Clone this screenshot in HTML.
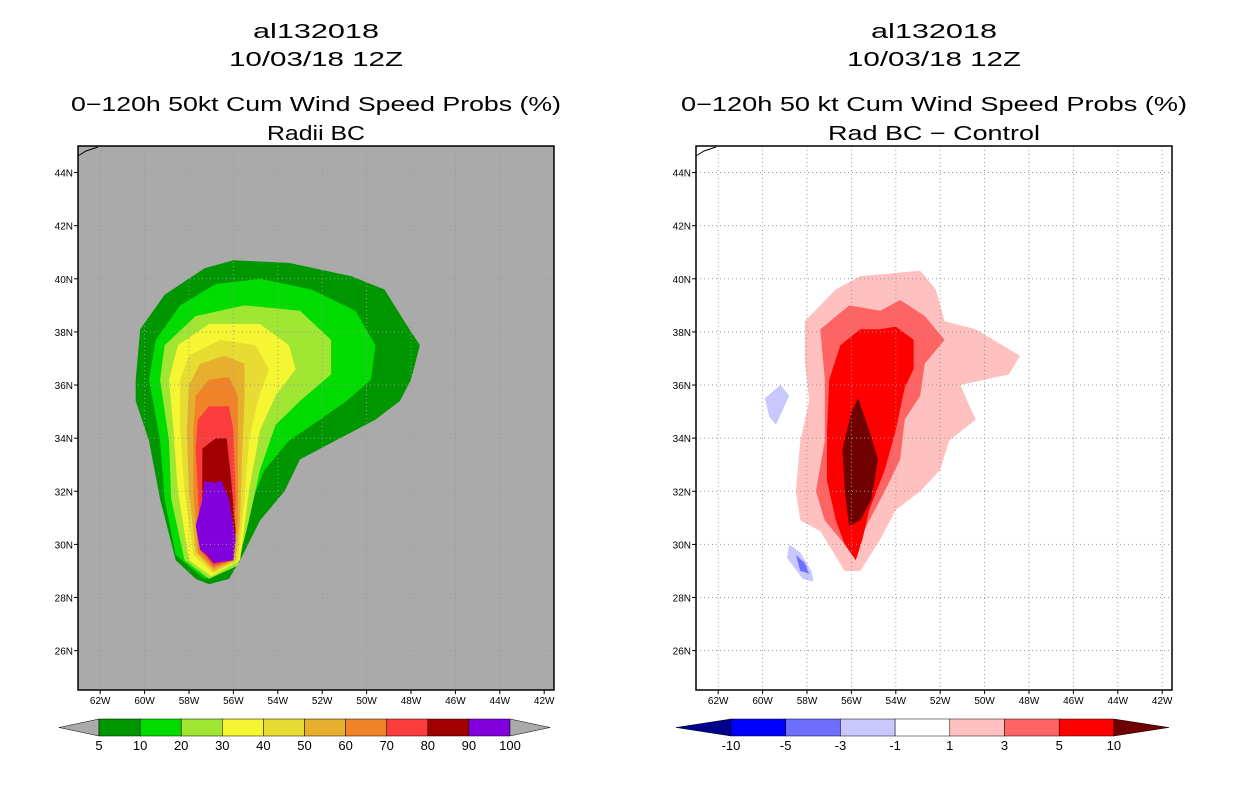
<!DOCTYPE html>
<html><head><meta charset="utf-8"><style>
body{margin:0;background:#fff;width:1236px;height:800px;overflow:hidden}
svg{display:block;font-family:"Liberation Sans",sans-serif}
</style></head><body>
<svg id="chart" width="1236" height="800" viewBox="0 0 1236 800"></svg>
<script>
// ---------- data ----------
const lonTicks=[62,60,58,56,54,52,50,48,46,44,42];
const latTicks=[26,28,30,32,34,36,38,40,42,44];
const leftLevels=["5","10","20","30","40","50","60","70","80","90","100"];
const leftColors=["#009600","#00dc00","#a0e632","#f5f532","#e6dc32","#e6af2d","#f08228","#fa3c3c","#a00000","#8200dc"];
const rightLevels=["-10","-5","-3","-1","1","3","5","10"];
const rightColors=["#0000ff","#6e6eff","#c8c8ff","#ffffff","#ffc0c0","#ff6464","#ff0000"];
// left contours [lonW, latN]
const c5=[[60.4,36.2],[60.2,38.1],[59.1,39.4],[57.3,40.4],[56.0,40.7],[53.5,40.6],[50.7,40.1],[49.2,39.6],[48.3,38.4],[47.6,37.5],[48.0,36.2],[48.5,35.4],[49.6,34.7],[51.2,34.0],[53.0,33.2],[53.7,32.0],[54.8,30.9],[55.7,29.4],[56.2,28.7],[57.1,28.5],[57.7,28.7],[58.6,29.4],[59.3,31.7],[59.8,33.9],[60.4,35.4]];
const c10=[[59.8,36.2],[59.5,37.7],[58.4,39.0],[56.8,39.8],[54.8,40.0],[52.5,39.6],[50.5,38.8],[49.6,37.5],[49.8,36.2],[50.9,35.4],[52.1,34.7],[53.5,33.9],[54.6,32.8],[55.5,30.9],[55.9,29.2],[57.3,28.7],[58.6,29.6],[59.1,31.7],[59.3,33.9]];
const c20=[[59.3,36.2],[59.1,37.5],[57.7,38.6],[55.5,39.0],[53.0,38.8],[51.6,37.7],[51.6,36.4],[53.0,35.4],[54.1,34.5],[54.8,32.8],[55.3,30.9],[55.8,29.2],[57.1,28.7],[58.2,29.4],[58.8,31.7],[58.9,33.9]];
const c30=[[58.9,36.2],[58.5,37.5],[57.1,38.3],[54.8,38.3],[53.5,37.5],[53.2,36.6],[54.1,35.6],[54.8,34.3],[55.3,32.0],[55.7,29.4],[57.0,28.8],[58.0,29.4],[58.5,32.0],[58.7,34.3]];
const c40=[[58.4,36.2],[58.0,37.1],[56.6,37.7],[55.0,37.5],[54.4,36.6],[54.9,35.4],[55.3,33.9],[55.5,31.7],[55.8,29.4],[56.9,28.9],[57.8,29.6],[58.2,32.0],[58.4,34.3]];
const c50=[[58.0,36.0],[57.5,36.8],[56.4,37.1],[55.5,36.8],[55.5,35.4],[55.6,33.6],[55.7,30.9],[55.9,29.4],[56.9,29.0],[57.7,29.7],[58.0,32.0],[58.1,34.3]];
const c60=[[57.7,35.6],[57.1,36.2],[56.2,36.3],[55.8,35.6],[55.8,33.6],[55.8,30.9],[56.0,29.4],[56.9,29.1],[57.6,29.7],[57.8,32.0],[57.8,34.3]];
const c70=[[57.6,34.7],[57.1,35.2],[56.2,35.2],[56.0,34.3],[55.9,31.7],[56.1,29.4],[56.9,29.2],[57.5,29.8],[57.6,32.0],[57.7,33.6]];
const c80=[[57.4,33.6],[56.8,34.0],[56.3,34.0],[56.1,32.4],[55.9,30.5],[56.0,29.4],[56.9,29.3],[57.4,29.8],[57.4,31.7]];
const c90=[[57.3,32.4],[56.8,32.3],[56.5,32.3],[56.2,31.7],[55.9,30.2],[56.0,29.4],[56.9,29.3],[57.3,29.8],[57.5,30.9]];
const c100=[[57.3,32.0],[56.9,32.3],[56.5,32.4],[56.4,31.7],[56.2,30.5],[55.9,30.2],[56.0,29.6],[56.9,29.4],[57.5,29.8],[57.7,30.7]];
const leftPolys=[c5,c10,c20,c30,c40,c50,c60,c70,c80,c90,c100];
const leftPolyColors=[0,1,2,3,4,5,6,7,8,9,9];
// right contours
const d1=[[58.1,38.4],[56.7,39.6],[55.6,40.1],[52.9,40.3],[52.2,39.6],[51.8,38.4],[50.4,38.1],[48.4,37.1],[48.9,36.4],[51.1,36.0],[50.4,34.7],[51.6,33.9],[52.0,32.8],[52.9,32.0],[54.0,31.3],[54.7,30.2],[55.6,29.0],[56.3,29.0],[57.4,30.5],[58.3,30.9],[58.5,32.0],[58.3,33.9],[57.9,35.4],[58.1,36.9]];
const d3=[[57.4,38.1],[56.1,39.0],[54.7,38.8],[53.8,39.2],[52.7,38.6],[51.8,37.7],[52.7,36.8],[52.9,35.6],[53.6,34.7],[53.8,33.2],[54.5,32.0],[55.2,30.9],[55.6,30.2],[56.3,30.0],[57.2,30.9],[57.6,32.0],[57.2,33.9],[57.2,36.2]];
const d5=[[57.0,36.2],[56.5,37.5],[55.6,38.1],[54.7,38.1],[54.0,38.2],[53.2,37.7],[53.2,36.6],[53.6,35.9],[54.0,34.3],[54.5,32.8],[55.2,31.3],[55.5,30.2],[55.8,29.4],[56.3,30.0],[56.7,30.9],[57.1,32.4],[57.1,34.3]];
const d10=[[56.2,34.3],[56.0,35.0],[55.7,35.5],[55.2,34.3],[54.8,33.2],[55.1,31.7],[55.6,30.9],[56.1,30.7],[56.3,32.0],[56.4,33.6]];
const dNeg1=[[59.9,35.5],[59.2,36.0],[58.8,35.6],[59.4,34.5],[59.7,34.8]];
const dNeg2=[[58.8,30.0],[58.3,29.7],[57.8,29.0],[57.7,28.6],[58.2,28.7],[58.9,29.5]];
const dNeg3=[[58.5,29.6],[58.1,29.3],[57.9,28.9],[58.3,29.0]];
// ---------- drawing ----------
const NS='http://www.w3.org/2000/svg';
const svg=document.getElementById('chart');
function mk(tag,attrs,parent){const e=document.createElementNS(NS,tag);for(const k in attrs)e.setAttribute(k,attrs[k]);(parent||svg).appendChild(e);return e;}
const PX=22.2, PY=26.56;
function xs(ox){return W=>ox+(63-W)*PX;}
function ys(N){return 146+(45-N)*PY;}
function poly(pts,ox,fill,g){const x=xs(ox);const p=mk('polygon',{points:pts.map(q=>x(q[0]).toFixed(1)+','+ys(q[1]).toFixed(1)).join(' '),fill:fill},g);

return p;}

function panel(ox,bg,titles,widths,name){
  const g=mk('g',{});
  
  
  const cx=ox+238;
  const ty=[38,66,111,140];
  titles.forEach((t,i)=>{const tx=mk('text',{x:cx,y:ty[i],'text-anchor':'middle','font-size':20,fill:'#000',textLength:widths[i],lengthAdjust:'spacingAndGlyphs'},g);tx.textContent=t;
    
    });
  const r=mk('rect',{x:ox,y:146,width:476,height:544,fill:bg},g);
  
  
  return g;
}
function gridAndAxes(ox,g){
  const x=xs(ox);
  lonTicks.forEach(w=>{const l=mk('line',{x1:x(w),x2:x(w),y1:146,y2:690,stroke:'#999','stroke-dasharray':'1,3','stroke-width':1},g);
    
    mk('line',{x1:x(w),x2:x(w),y1:690,y2:694,stroke:'#000'},g);
    const t=mk('text',{x:x(w),y:704,'text-anchor':'middle','font-size':10},g);t.textContent=w+'W';
    });
  latTicks.forEach(n=>{const l=mk('line',{x1:ox,x2:ox+476,y1:ys(n),y2:ys(n),stroke:'#999','stroke-dasharray':'1,3','stroke-width':1},g);
    
    mk('line',{x1:ox-4,x2:ox,y1:ys(n),y2:ys(n),stroke:'#000'},g);
    const t=mk('text',{x:ox-5,y:ys(n)+4,'text-anchor':'end','font-size':10},g);t.textContent=n+'N';
    });
  mk('path',{d:`M${ox} 156 L${ox+8} 151 L${ox+20} 147`,stroke:'#000',fill:'none'},g);
  const b=mk('rect',{x:ox,y:146,width:476,height:544,fill:'none',stroke:'#000','stroke-width':1.5},g);
  
}
function colorbar(x0,bw,colors,labels,lowCol,highCol,triW,name){
  const g=mk('g',{});
  
  
  const y0=719,h=17;
  mk('polygon',{points:`${x0-triW},${y0+h/2} ${x0},${y0} ${x0},${y0+h}`,fill:lowCol,stroke:'#000','stroke-width':0.5},g);
  colors.forEach((c,i)=>{const r=mk('rect',{x:x0+i*bw,y:y0,width:bw,height:h,fill:c,stroke:'#000','stroke-width':0.5},g);
    });
  const xe=x0+colors.length*bw;
  mk('polygon',{points:`${xe},${y0} ${xe+triW},${y0+h/2} ${xe},${y0+h}`,fill:highCol,stroke:'#000','stroke-width':0.5},g);
  labels.forEach((l,i)=>{const t=mk('text',{x:x0+i*bw,y:750,'text-anchor':'middle','font-size':13},g);t.textContent=l;
    });
}
// left panel
const gl=panel(78,'#aaaaaa',['al132018','10/03/18 12Z','0\u2212120h 50kt Cum Wind Speed Probs (%)','Radii BC'],[126,174,490,98],'left-map-panel');
leftPolys.forEach((p,i)=>poly(p,78,leftColors[leftPolyColors[i]],gl));
gridAndAxes(78,gl);
colorbar(99,41.1,leftColors,leftLevels,'#aaaaaa','#aaaaaa',40,'left-colorbar');
// right panel
const gr=panel(696,'#ffffff',['al132018','10/03/18 12Z','0\u2212120h 50 kt Cum Wind Speed Probs (%)','Rad BC \u2212 Control'],[126,174,506,212],'right-map-panel');
[[d1,4],[d3,5],[d5,6],[d10,-1]].forEach(([p,c])=>poly(p,696,c<0?'#700000':rightColors[c],gr));
poly(dNeg1,696,rightColors[2],gr);
poly(dNeg2,696,rightColors[2],gr);
poly(dNeg3,696,rightColors[1],gr);
gridAndAxes(696,gr);
colorbar(731,54.7,rightColors,rightLevels,'#00008c','#700000',55,'right-colorbar');
</script>
</body></html>
